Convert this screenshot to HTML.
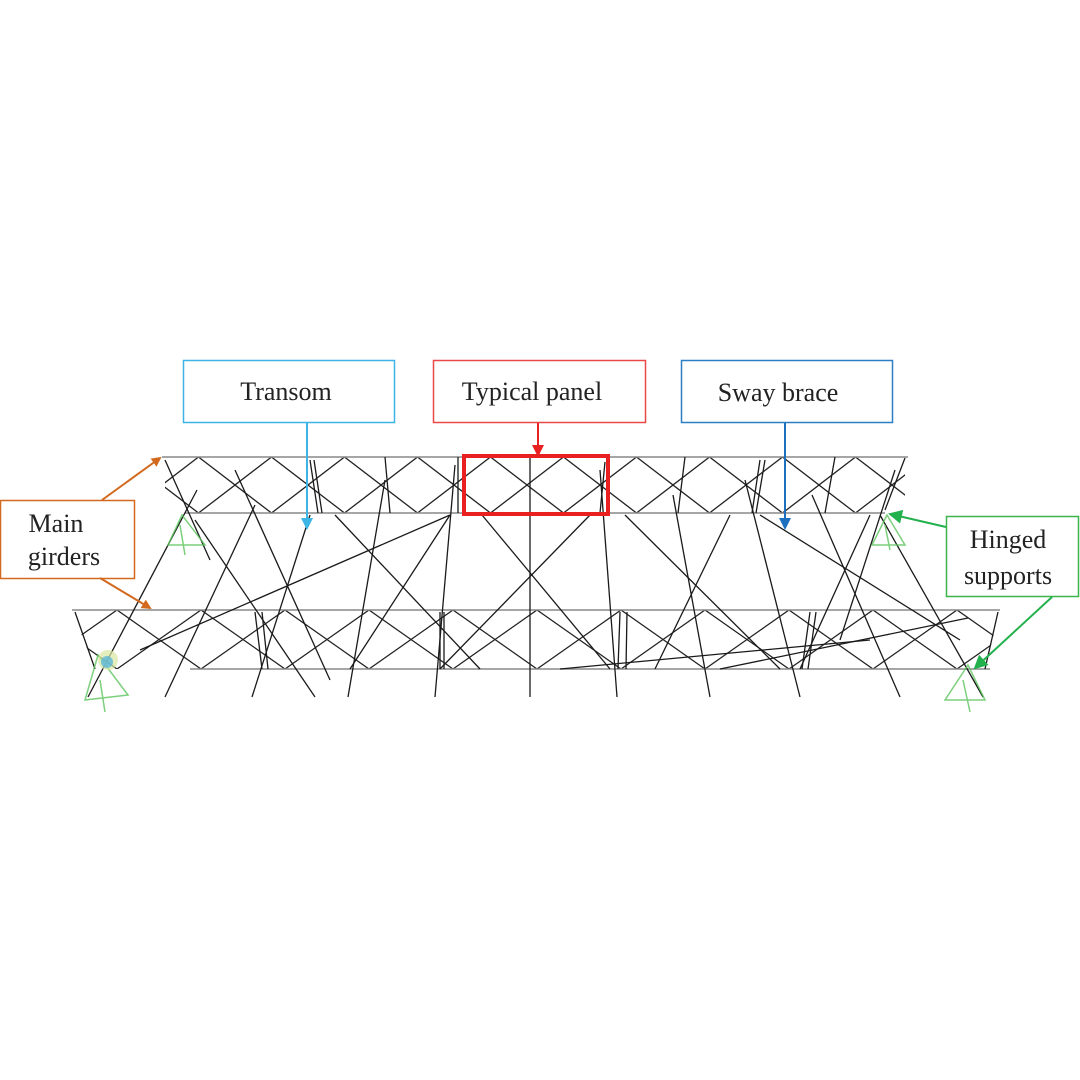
<!DOCTYPE html>
<html><head><meta charset="utf-8"><style>
html,body{margin:0;padding:0;background:#fff}
svg{display:block}
text{font-family:"Liberation Serif",serif;fill:#222}
</style></head><body>
<svg width="1080" height="1080" viewBox="0 0 1080 1080" xmlns="http://www.w3.org/2000/svg">
<defs>
<pattern id="p1" x="162" y="457" width="73" height="56" patternUnits="userSpaceOnUse">
<path d="M36.5,0 L73,28 L36.5,56 L0,28 Z" fill="none" stroke="#222" stroke-width="1.3"/>
</pattern>
<pattern id="p2" x="75" y="610" width="84" height="59" patternUnits="userSpaceOnUse">
<path d="M42,0 L84,29.5 L42,59 L0,29.5 Z" fill="none" stroke="#222" stroke-width="1.3"/>
</pattern>
<marker id="mo" markerWidth="10" markerHeight="10" refX="8" refY="5" orient="auto" markerUnits="userSpaceOnUse"><path d="M0,0 L10,5 L0,10 Z" fill="#d2691e"/></marker>
<marker id="mb" markerWidth="12" markerHeight="12" refX="10" refY="6" orient="auto" markerUnits="userSpaceOnUse"><path d="M0,0 L12,6 L0,12 Z" fill="#3cb4e6"/></marker>
<marker id="md" markerWidth="12" markerHeight="12" refX="10" refY="6" orient="auto" markerUnits="userSpaceOnUse"><path d="M0,0 L12,6 L0,12 Z" fill="#1f6fbf"/></marker>
<marker id="mr" markerWidth="12" markerHeight="12" refX="10" refY="6" orient="auto" markerUnits="userSpaceOnUse"><path d="M0,0 L12,6 L0,12 Z" fill="#e82020"/></marker>
<marker id="mg" markerWidth="14" markerHeight="14" refX="12" refY="7" orient="auto" markerUnits="userSpaceOnUse"><path d="M0,0 L14,7 L0,14 Z" fill="#22b14c"/></marker>
</defs>

<rect x="165" y="457" width="740" height="56" fill="url(#p1)"/>
<polygon points="72,610 1000,610 985,669 95,669" fill="url(#p2)"/>
<g stroke="#888" stroke-width="1.6">
<line x1="162" y1="457" x2="908" y2="457"/>
<line x1="185" y1="513" x2="885" y2="513"/>
<line x1="72" y1="610" x2="1000" y2="610"/>
<line x1="190" y1="669" x2="990" y2="669"/>
</g>
<g stroke="#1a1a1a" stroke-width="1.3" fill="none">
<line x1="310" y1="460" x2="318" y2="513"/><line x1="314" y1="460" x2="322" y2="513"/>
<line x1="385" y1="457" x2="390" y2="513"/>
<line x1="458" y1="457" x2="458" y2="513"/>
<line x1="605" y1="462" x2="600" y2="513"/>
<line x1="685" y1="457" x2="678" y2="513"/>
<line x1="760" y1="460" x2="752" y2="513"/><line x1="765" y1="460" x2="756" y2="513"/>
<line x1="835" y1="457" x2="825" y2="513"/>
<line x1="905" y1="458" x2="885" y2="510"/>
<line x1="440" y1="612" x2="440" y2="669"/><line x1="444" y1="612" x2="444" y2="669"/>
<line x1="255" y1="612" x2="262" y2="669"/><line x1="262" y1="612" x2="268" y2="669"/>
<line x1="620" y1="612" x2="618" y2="669"/><line x1="627" y1="612" x2="626" y2="669"/>
<line x1="810" y1="612" x2="802" y2="669"/><line x1="816" y1="612" x2="808" y2="669"/>
<line x1="998" y1="612" x2="985" y2="669"/>
<line x1="75" y1="612" x2="95" y2="669"/>
<line x1="530" y1="457" x2="530" y2="697"/>
<line x1="165" y1="460" x2="210" y2="560"/>
<line x1="88" y1="697" x2="197" y2="490"/>
<line x1="165" y1="697" x2="255" y2="505"/>
<line x1="252" y1="697" x2="310" y2="515"/>
<line x1="140" y1="650" x2="450" y2="515"/>
<line x1="195" y1="520" x2="315" y2="697"/>
<line x1="235" y1="470" x2="330" y2="680"/>
<line x1="348" y1="697" x2="385" y2="480"/>
<line x1="335" y1="515" x2="480" y2="669"/>
<line x1="435" y1="697" x2="455" y2="465"/>
<line x1="350" y1="669" x2="450" y2="515"/>
<line x1="482" y1="515" x2="610" y2="669"/>
<line x1="590" y1="515" x2="440" y2="669"/>
<line x1="600" y1="470" x2="617" y2="697"/>
<line x1="625" y1="515" x2="780" y2="669"/>
<line x1="730" y1="515" x2="655" y2="669"/>
<line x1="673" y1="495" x2="710" y2="697"/>
<line x1="745" y1="480" x2="800" y2="697"/>
<line x1="760" y1="515" x2="960" y2="640"/>
<line x1="870" y1="515" x2="800" y2="669"/>
<line x1="812" y1="495" x2="900" y2="697"/>
<line x1="880" y1="515" x2="983" y2="697"/>
<line x1="895" y1="470" x2="840" y2="640"/>
<line x1="968" y1="618" x2="720" y2="669"/>
<line x1="870" y1="640" x2="560" y2="669"/>
</g>
<g stroke="#5cc45c" stroke-width="1.5" fill="none" opacity="0.8">
<path d="M182,515 L168,545 L205,545 Z"/><path d="M180,525 L185,555"/>
<path d="M887,515 L872,545 L905,545 Z"/><path d="M885,525 L890,550"/>
<path d="M98,655 L85,700 L128,695 Z"/><path d="M100,680 L105,712"/>
<path d="M968,665 L945,700 L985,700 Z"/><path d="M963,680 L970,712"/>
</g>
<circle cx="108" cy="660" r="10" fill="#d8e6a0" opacity="0.7"/>
<circle cx="107" cy="662" r="6" fill="#5cb8d8" opacity="0.8"/>

<rect x="464" y="456" width="144" height="58" fill="none" stroke="#e82020" stroke-width="4"/>

<rect x="183.5" y="360.5" width="211" height="62" fill="#fff" stroke="#3cb4e6" stroke-width="1.5"/>
<text x="286" y="400" font-size="26" text-anchor="middle">Transom</text>
<rect x="433.5" y="360.5" width="212" height="62" fill="#fff" stroke="#e84848" stroke-width="1.5"/>
<text x="532" y="400" font-size="26" text-anchor="middle">Typical panel</text>
<rect x="681.5" y="360.5" width="211" height="62" fill="#fff" stroke="#2a7fc4" stroke-width="1.5"/>
<text x="778" y="401" font-size="26" text-anchor="middle">Sway brace</text>
<rect x="0.5" y="500.5" width="134" height="78" fill="#fff" stroke="#d2691e" stroke-width="1.5"/>
<text x="56" y="532" font-size="26" text-anchor="middle">Main</text>
<text x="64" y="565" font-size="26" text-anchor="middle">girders</text>
<rect x="946.5" y="516.5" width="132" height="80" fill="#fff" stroke="#3cb44b" stroke-width="1.5"/>
<text x="1008" y="548" font-size="26" text-anchor="middle">Hinged</text>
<text x="1008" y="584" font-size="26" text-anchor="middle">supports</text>

<line x1="307" y1="423" x2="307" y2="528" stroke="#3cb4e6" stroke-width="2" marker-end="url(#mb)"/>
<line x1="538" y1="423" x2="538" y2="455" stroke="#e82020" stroke-width="2" marker-end="url(#mr)"/>
<line x1="785" y1="423" x2="785" y2="528" stroke="#1f6fbf" stroke-width="2" marker-end="url(#md)"/>
<line x1="102" y1="500" x2="160" y2="458" stroke="#d2691e" stroke-width="2" marker-end="url(#mo)"/>
<line x1="100" y1="578" x2="150" y2="608" stroke="#d2691e" stroke-width="2" marker-end="url(#mo)"/>
<line x1="946" y1="527" x2="890" y2="514" stroke="#22b14c" stroke-width="2" marker-end="url(#mg)"/>
<line x1="1052" y1="597" x2="975" y2="668" stroke="#22b14c" stroke-width="2" marker-end="url(#mg)"/>
</svg>
</body></html>
